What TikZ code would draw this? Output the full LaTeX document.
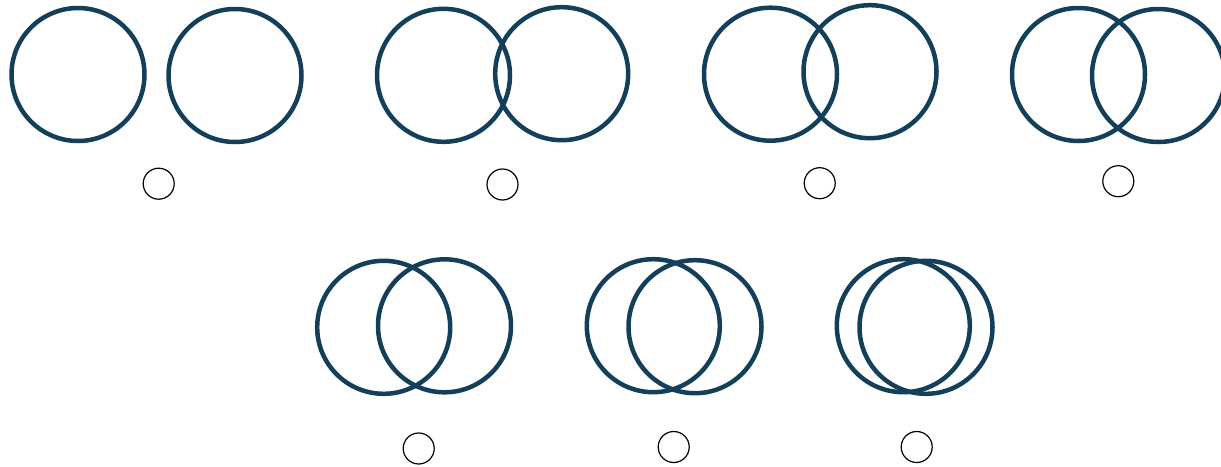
\documentclass[tikz,border=0pt]{standalone}
\definecolor{ringblue}{HTML}{133F5B}
\begin{document}
\begin{tikzpicture}[x=1pt,y=-1pt,
  ring/.style={circle,draw=ringblue,line width=4.5pt,minimum size=133pt,inner sep=0pt},
  dot/.style={circle,draw=black,line width=1.2pt,minimum size=31pt,inner sep=0pt}]
\useasboundingbox (0,0) rectangle (1221,466);
% row 1
\node[ring] (a1) at (78,74.5) {};
\node[ring] (b1) at (235,75.5) {};
\node[dot] (s1) at (158.7,183.7) {};
\node[ring] (a2) at (443.5,75.3) {};
\node[ring] (b2) at (561.7,73.7) {};
\node[dot] (s2) at (502.5,184.5) {};
\node[ring] (a3) at (770.5,74.2) {};
\node[ring] (b3) at (870,71.7) {};
\node[dot] (s3) at (819.7,183.2) {};
\node[ring] (a4) at (1078.5,74.5) {};
\node[ring] (b4) at (1158.5,75.5) {};
\node[dot] (s4) at (1118.3,181.2) {};
% row 2
\node[ring] (a5) at (383.7,327.3) {};
\node[ring] (b5) at (444.5,325.8) {};
\node[dot] (s5) at (418.7,448.5) {};
\node[ring] (a6) at (653.3,325.7) {};
\node[ring] (b6) at (695,326.7) {};
\node[dot] (s6) at (673.7,447) {};
\node[ring] (a7) at (903.3,325.7) {};
\node[ring] (b7) at (926,327.3) {};
\node[dot] (s7) at (916.7,447) {};
\end{tikzpicture}
\end{document}
